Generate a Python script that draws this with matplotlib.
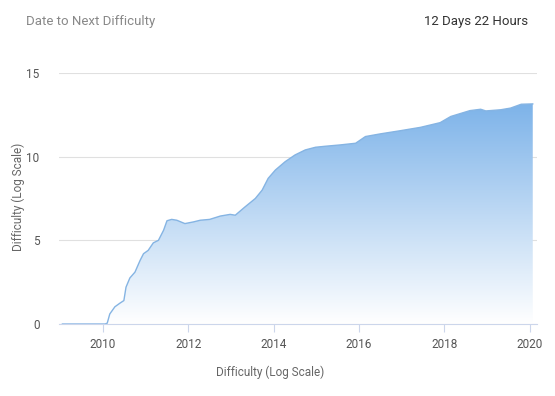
import numpy as np
import matplotlib
matplotlib.use('Agg')
import matplotlib.pyplot as plt
from matplotlib.colors import LinearSegmentedColormap

plt.rcParams['font.family'] = ['Roboto', 'DejaVu Sans']

# difficulty (log scale)
years = [2009.05, 2010.05, 2010.10, 2010.16, 2010.28, 2010.40, 2010.49, 2010.54,
         2010.63, 2010.75, 2010.87, 2010.95, 2011.06, 2011.18, 2011.30, 2011.42,
         2011.50, 2011.61, 2011.73, 2011.92, 2012.12, 2012.28, 2012.50, 2012.75,
         2012.98, 2013.10, 2013.33, 2013.57, 2013.73, 2013.87, 2014.04, 2014.27,
         2014.50, 2014.74, 2014.98, 2015.21, 2015.56, 2015.92, 2016.15, 2016.50,
         2016.97, 2017.44, 2017.90, 2018.15, 2018.60, 2018.85, 2018.97, 2019.32,
         2019.55, 2019.80, 2020.07]
values = [0.0, 0.0, 0.05, 0.6, 1.03, 1.25, 1.4, 2.2,
          2.75, 3.1, 3.8, 4.2, 4.4, 4.85, 5.0, 5.6,
          6.17, 6.25, 6.2, 6.0, 6.1, 6.2, 6.25, 6.45,
          6.55, 6.5, 7.0, 7.5, 8.0, 8.7, 9.2, 9.7,
          10.1, 10.4, 10.56, 10.62, 10.7, 10.8, 11.2, 11.36,
          11.55, 11.75, 12.03, 12.4, 12.75, 12.83, 12.73, 12.8,
          12.9, 13.13, 13.15]
y_ticks = [0, 5, 10, 15]
x_ticks = [2010, 2012, 2014, 2016, 2018, 2020]

fig = plt.figure(figsize=(5.55, 3.96), dpi=100)
ax = fig.add_axes([0.1063, 0.1818, 0.8613, 0.634])

x = np.array(years)
y = np.array(values)

# gradient fill clipped to the area under the curve
poly = ax.fill_between(x, 0, y, facecolor='none', edgecolor='none')
cmap = LinearSegmentedColormap.from_list('fade', ['#ffffff', '#7db3e9'])
grad = np.linspace(0, 1, 256).reshape(-1, 1)
img = ax.imshow(grad, cmap=cmap, aspect='auto', origin='lower',
                extent=[x.min(), x.max(), 0, y.max()], zorder=1)
img.set_clip_path(poly.get_paths()[0], transform=ax.transData)
ax.plot(x, y, color='#85b4e3', lw=1.0, zorder=2)

ax.set_xlim(2008.97, 2020.17)
ax.set_ylim(0, 15)
ax.set_yticks(y_ticks)
ax.set_xticks(x_ticks)
ax.grid(axis='y', color='#e0e0e0', lw=0.8, zorder=0)
ax.set_axisbelow(True)

for s in ['top', 'right', 'left']:
    ax.spines[s].set_visible(False)
ax.spines['bottom'].set_color('#ccd6eb')
ax.spines['bottom'].set_zorder(3)

ax.tick_params(axis='y', length=0, pad=14, labelsize=8.5, labelcolor='#555555')
ax.tick_params(axis='x', length=6, color='#ccd6eb', pad=4, labelsize=8.5,
               labelcolor='#555555')

ax.set_ylabel('Difficulty (Log Scale)', fontsize=8.5, color='#666666', va='center')
ax.yaxis.set_label_coords(-0.086, 0.506)
ax.set_xlabel('Difficulty (Log Scale)', fontsize=8.5, color='#666666', va='center')
ax.xaxis.set_label_coords(0.441, -0.191)

fig.text(26 / 555, 1 - 22 / 396, 'Date to Next Difficulty', fontsize=9.5,
         color='#888888', va='center', ha='left')
fig.text(528 / 555, 1 - 22 / 396, '12 Days 22 Hours', fontsize=9.5,
         color='#333333', va='center', ha='right')

fig.savefig('out.png', dpi=100)
